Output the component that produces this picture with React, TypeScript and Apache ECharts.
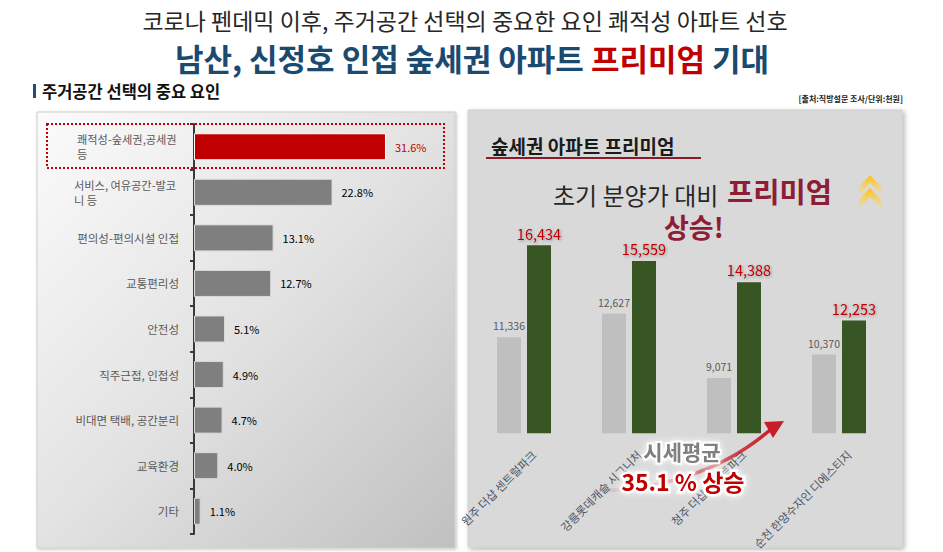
import React, { useEffect, useRef } from 'react';
import * as echarts from 'echarts';

const FONT = "'Noto Sans CJK KR', 'Noto Sans', sans-serif";

// Left chart: 주거공간 선택의 중요 요인 (%)
const factorLines: string[][] = [
  ['쾌적성-숲세권,공세권', '등'],
  ['서비스, 여유공간-발코', '니 등'],
  ['편의성-편의시설 인접'],
  ['교통편리성'],
  ['안전성'],
  ['직주근접, 인접성'],
  ['비대면 택배, 공간분리'],
  ['교육환경'],
  ['기타'],
];
const factorCategories = factorLines.map((l) => l.join(' '));
const factorValues = [31.6, 22.8, 13.1, 12.7, 5.1, 4.9, 4.7, 4.0, 1.1];

// Right chart: 숲세권 아파트 프리미엄 (천원)
const aptNames = ['원주 더샵 센트럴파크', '강릉롯데캐슬 시그니처', '청주 더샵 퍼스트파크', '순천 한양수자인 디에스티지'];
const initialPrice = [11336, 12627, 9071, 10370];
const marketAvg = [16434, 15559, 14388, 12253];

function glowText(text: string, x: number, y: number, fontSize: number, fill: string, z: number, glowWidth: number): any {
  return {
    type: 'text', z, silent: true,
    style: {
      text, x, y, align: 'center', verticalAlign: 'middle',
      fontSize, fontWeight: 'bold', fontFamily: FONT,
      fill, stroke: '#ffffff', lineWidth: glowWidth, lineJoin: 'round', strokeFirst: true,
      textShadowColor: 'rgba(255,255,255,0.95)', textShadowBlur: 6,
    },
  };
}

export default function App() {
  const ref = useRef<HTMLDivElement>(null);

  useEffect(() => {
    if (!ref.current) return;
    const chart = echarts.init(ref.current, undefined, { renderer: 'svg' });

    const multiWidths: Record<number, number> = { 0: 102, 1: 105 };
    const rich: any = {};
    Object.keys(multiWidths).forEach((k) => {
      rich['m' + k] = {
        width: multiWidths[Number(k)],
        align: 'left',
        fontSize: 11.2,
        color: '#595959',
        fontFamily: FONT,
        lineHeight: 15,
      };
    });

    const option: any = {
      animation: false,
      graphic: [
        // Titles
        {
          type: 'text',
          z: 5,
          style: {
            text: '코로나 펜데믹 이후, 주거공간 선택의 중요한 요인 쾌적성 아파트 선호',
            x: 465, y: 20, align: 'center', verticalAlign: 'middle',
            fontSize: 23, fontFamily: FONT, fill: '#262626',
          },
        },
        {
          type: 'text',
          z: 5,
          style: {
            text: '{b|남산, 신정호 인접 숲세권 아파트 }{r|프리미엄}{b| 기대}',
            x: 472, y: 57, align: 'center', verticalAlign: 'middle',
            rich: {
              b: { fontSize: 31, fontWeight: 'bold', fontFamily: FONT, fill: '#1b4a70', color: '#1b4a70' },
              r: { fontSize: 31, fontWeight: 'bold', fontFamily: FONT, fill: '#c00000', color: '#c00000' },
            },
          },
        },
        // Section heading
        { type: 'rect', z: 5, shape: { x: 33, y: 84, width: 3, height: 14 }, style: { fill: '#1f4e79' } },
        {
          type: 'text', z: 5,
          style: {
            text: '주거공간 선택의 중요 요인', x: 42, y: 91, verticalAlign: 'middle',
            fontSize: 16.5, fontWeight: 'bold', fontFamily: FONT, fill: '#111111',
          },
        },
        {
          type: 'text', z: 5,
          style: {
            text: '[출처:직방설문 조사/단위:천원]', x: 903, y: 98, align: 'right', verticalAlign: 'middle',
            fontSize: 8, fontWeight: 'bold', fontFamily: FONT, fill: '#222222',
          },
        },
        // Left panel background
        {
          type: 'rect', z: 0,
          shape: { x: 37, y: 112, width: 418, height: 436 },
          style: {
            fill: new echarts.graphic.LinearGradient(0, 0, 1, 1, [
              { offset: 0, color: '#fbfbfb' },
              { offset: 0.5, color: '#e2e2e2' },
              { offset: 1, color: '#c0c0c0' },
            ]),
            stroke: '#cfcfcf', lineWidth: 1,
            shadowBlur: 3, shadowOffsetX: 1, shadowOffsetY: 1, shadowColor: 'rgba(0,0,0,0.25)',
          },
        },
        // Highlight dotted box
        {
          type: 'rect', z: 10,
          shape: { x: 47, y: 124, width: 397, height: 44 },
          style: { fill: 'none', stroke: '#c00000', lineWidth: 2, lineDash: [2, 2] },
        },
        // Right panel background
        {
          type: 'rect', z: 0,
          shape: { x: 468, y: 110, width: 434, height: 437 },
          style: {
            fill: '#d9d9d9', stroke: '#d0d0d0', lineWidth: 1,
            shadowBlur: 5, shadowOffsetX: 2, shadowOffsetY: 2, shadowColor: 'rgba(0,0,0,0.3)',
          },
        },
        {
          type: 'text', z: 5,
          style: {
            text: '숲세권 아파트 프리미엄', x: 491, y: 145, verticalAlign: 'middle',
            fontSize: 19, fontWeight: 'bold', fontFamily: FONT, fill: '#1a1a1a',
          },
        },
        { type: 'line', z: 5, shape: { x1: 486, y1: 158, x2: 701, y2: 158 }, style: { stroke: '#8b1a2b', lineWidth: 2 } },
        {
          type: 'text', z: 5,
          style: {
            text: '초기 분양가 대비', x: 553, y: 194, verticalAlign: 'middle',
            fontSize: 24, fontFamily: FONT, fill: '#262626',
          },
        },
        {
          type: 'text', z: 5,
          style: {
            text: '프리미엄', x: 727, y: 190, verticalAlign: 'middle',
            fontSize: 28.5, fontWeight: 'bold', fontFamily: FONT, fill: '#8f1d35',
          },
        },
        {
          type: 'text', z: 5,
          style: {
            text: '상승!', x: 664, y: 226, verticalAlign: 'middle',
            fontSize: 27, fontWeight: 'bold', fontFamily: FONT, fill: '#8f1d35',
          },
        },
        // Chevrons
        {
          type: 'polygon', z: 5,
          shape: { points: [[859, 187], [870, 175], [881, 187], [881, 195], [870, 183], [859, 195]] },
          style: {
            fill: new echarts.graphic.LinearGradient(0, 0, 0, 1, [
              { offset: 0, color: '#ffc000' },
              { offset: 1, color: 'rgba(255,215,120,0.35)' },
            ]),
          },
        },
        {
          type: 'polygon', z: 5,
          shape: { points: [[859, 200], [870, 188], [881, 200], [881, 209], [870, 197], [859, 209]] },
          style: {
            fill: new echarts.graphic.LinearGradient(0, 0, 0, 1, [
              { offset: 0, color: '#ffc000' },
              { offset: 1, color: 'rgba(255,215,120,0.3)' },
            ]),
          },
        },
        // Arrow
        {
          type: 'bezierCurve', z: 50,
          shape: { x1: 590, y1: 491, cpx1: 680, cpy1: 490, cpx2: 735, cpy2: 460, x2: 770, y2: 430 },
          style: {
            fill: 'none', lineWidth: 3.5,
            stroke: new echarts.graphic.LinearGradient(0, 0, 1, 0, [
              { offset: 0, color: 'rgba(200,30,40,0)' },
              { offset: 0.5, color: 'rgba(200,30,40,0.45)' },
              { offset: 1, color: '#c81e28' },
            ]),
          },
        },
        {
          type: 'polygon', z: 50,
          shape: { points: [[784, 421], [764, 422], [773, 438]] },
          style: { fill: '#c81e28' },
        },
        glowText('시세평균', 682, 451, 21, '#7f7f7f', 60, 4),
        glowText('35.1 % 상승', 683, 481, 23, '#c00000', 62, 5),
      ],
      grid: [
        { left: 194, top: 124, width: 243, height: 410, containLabel: false },
        { left: 471.5, top: 181, width: 420, height: 255, containLabel: false },
      ],
      xAxis: [
        { type: 'value', gridIndex: 0, min: 0, max: 40, show: false },
        {
          type: 'category', gridIndex: 1, data: aptNames,
          axisLine: { show: false }, axisTick: { show: false },
          axisLabel: {
            rotate: 45, interval: 0, margin: 29, fontSize: 11.5, color: '#4a5568', fontFamily: FONT,
            padding: [0, -14, 0, 0],
          },
        },
      ],
      yAxis: [
        {
          type: 'category', gridIndex: 0, data: factorCategories, inverse: true,
          axisLine: { show: true, lineStyle: { color: '#3a3a3a', width: 2 } },
          axisTick: { show: true, length: 4, lineStyle: { color: '#3a3a3a', width: 2 } },
          axisLabel: {
            margin: 15, fontSize: 11.5, color: '#595959', fontFamily: FONT,
            formatter: (_v: string, idx: number) => {
              const lines = factorLines[idx];
              if (lines.length > 1) return lines.map((l) => `{m${idx}|${l}}`).join('\n');
              return lines[0];
            },
            rich,
          },
          splitLine: { show: false },
        },
        { type: 'value', gridIndex: 1, min: 6000, max: 20000, show: false, splitLine: { show: false } },
      ],
      series: [
        {
          type: 'bar', xAxisIndex: 0, yAxisIndex: 0, barWidth: 27,
          data: factorValues.map((v, i) => ({
            value: v,
            itemStyle: i === 0
              ? { color: '#c00000', borderColor: '#ffffff', borderWidth: 1 }
              : { color: '#7f7f7f', borderColor: '#d9d9d9', borderWidth: 1 },
            label: { color: i === 0 ? '#c00000' : '#000000' },
          })),
          label: {
            show: true, position: 'right', distance: 9, fontSize: 11, fontFamily: FONT,
            formatter: (p: any) => `${p.value.toFixed(1)}%`,
          },
        },
        {
          name: '초기 분양가', type: 'bar', xAxisIndex: 1, yAxisIndex: 1, barWidth: 24, barGap: '25%',
          data: initialPrice,
          itemStyle: { color: '#bfbfbf' },
          label: {
            show: true, position: 'top', distance: 6, fontSize: 10.5, color: '#595959', fontFamily: FONT,
            formatter: (p: any) => p.value.toLocaleString('en-US'),
          },
        },
        {
          name: '시세평균', type: 'bar', xAxisIndex: 1, yAxisIndex: 1, barWidth: 24, barGap: '25%',
          data: marketAvg,
          itemStyle: { color: '#375623' },
          label: {
            show: true, position: 'top', distance: 5, fontSize: 14.5, color: '#c00000', fontFamily: FONT,
            textShadowColor: 'rgba(0,0,0,0.35)', textShadowBlur: 3, textShadowOffsetX: 1, textShadowOffsetY: 1,
            formatter: (p: any) => p.value.toLocaleString('en-US'),
          },
        },
      ],
    };

    chart.setOption(option);
    return () => chart.dispose();
  }, []);

  return (
    <div
      ref={ref}
      style={{ position: 'fixed', left: 0, top: 0, width: 943, height: 552, background: '#ffffff' }}
    />
  );
}
